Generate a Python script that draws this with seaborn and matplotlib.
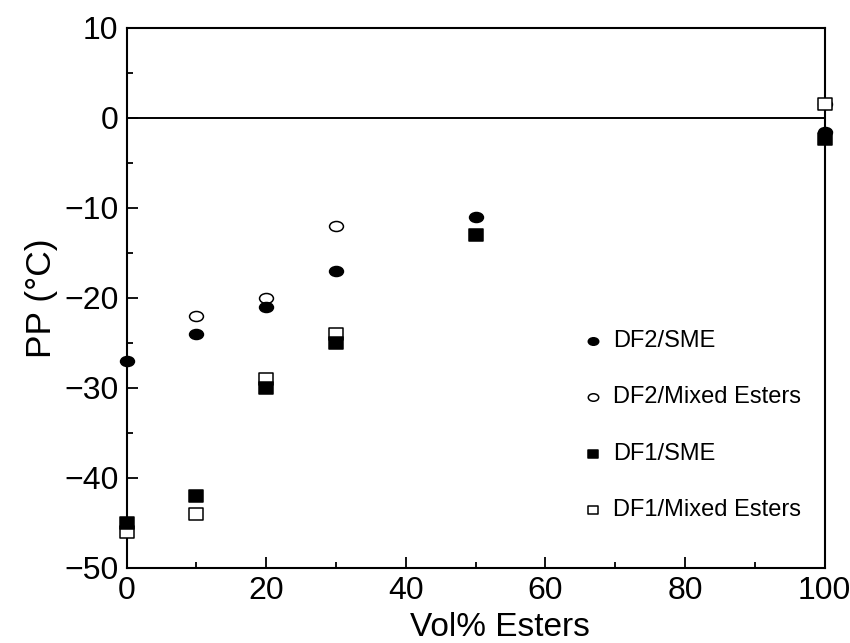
import matplotlib
matplotlib.use("Agg")
import matplotlib.pyplot as plt
import matplotlib.transforms as mtransforms
import seaborn as sns
import pandas as pd
import numpy as np
from matplotlib.path import Path
from matplotlib.ticker import MultipleLocator

# -----------------------
# Data
# -----------------------
df2_sme_x = [0, 10, 20, 30, 50, 100]
df2_sme_y = [-27, -24, -21, -17, -11, -1.6]

df2_mix_x = [10, 20, 30, 100]
df2_mix_y = [-22, -20, -12, 1.5]

df1_sme_x = [0, 10, 20, 30, 50, 100]
df1_sme_y = [-45, -42, -30, -25, -13, -2.4]

df1_mix_x = [0, 10, 20, 30, 100]
df1_mix_y = [-46, -44, -29, -24, 1.5]

series_names = ["DF2/SME", "DF2/Mixed Esters", "DF1/SME", "DF1/Mixed Esters"]

frames = []
for name, xs, ys in zip(series_names,
                        [df2_sme_x, df2_mix_x, df1_sme_x, df1_mix_x],
                        [df2_sme_y, df2_mix_y, df1_sme_y, df1_mix_y]):
    frames.append(pd.DataFrame({"vol": xs, "pp": ys, "series": name}))
data = pd.concat(frames, ignore_index=True)

# -----------------------
# Markers: slightly squashed circles / squares like the scanned figure
# -----------------------
circ = Path.unit_circle()
ellipse = Path(circ.vertices * np.array([1.0, 0.72]), circ.codes)
rect = Path([(-1, -0.85), (1, -0.85), (1, 0.85), (-1, 0.85), (-1, -0.85)],
            [Path.MOVETO, Path.LINETO, Path.LINETO, Path.LINETO, Path.CLOSEPOLY])

styles = {
    "DF2/SME": dict(marker=ellipse, face="black"),
    "DF2/Mixed Esters": dict(marker=ellipse, face="white"),
    "DF1/SME": dict(marker=rect, face="black"),
    "DF1/Mixed Esters": dict(marker=rect, face="white"),
}

# -----------------------
# Style
# -----------------------
sns.set_theme(style="ticks")
plt.rcParams["font.family"] = ["Liberation Sans", "DejaVu Sans"]
plt.rcParams["text.color"] = "black"
plt.rcParams["axes.labelcolor"] = "black"
plt.rcParams["xtick.color"] = "black"
plt.rcParams["ytick.color"] = "black"

fig = plt.figure(figsize=(8.5, 6.43), dpi=100)
ax = fig.add_axes([0.149, 0.117, 0.821, 0.840])

ax.axhline(0, color="black", lw=1.4, zorder=1)

# open markers first so the filled ones sit on top where they overlap
draw_order = ["DF2/Mixed Esters", "DF1/Mixed Esters", "DF2/SME", "DF1/SME"]
for name in draw_order:
    st = styles[name]
    sub = data[data["series"] == name]
    sns.scatterplot(data=sub, x="vol", y="pp", ax=ax, marker=st["marker"],
                    s=100, color=st["face"], edgecolor="black",
                    linewidth=1.1, label=name, clip_on=False, zorder=3)

ax.set_xlim(0, 100)
ax.set_ylim(-50, 10)
ax.xaxis.set_major_locator(MultipleLocator(20))
ax.xaxis.set_minor_locator(MultipleLocator(10))
ax.yaxis.set_major_locator(MultipleLocator(10))
ax.yaxis.set_minor_locator(MultipleLocator(5))
ax.tick_params(which="both", direction="in", top=False, right=False,
               width=1.3, labelsize=23, pad=6)
ax.tick_params(which="major", length=8)
ax.tick_params(which="minor", length=4)
for sp in ax.spines.values():
    sp.set_linewidth(1.5)
    sp.set_color("black")

# the "100" label sits a little left of its tick in the reference
fig.canvas.draw()
last = ax.get_xticklabels()[-1]
last.set_transform(last.get_transform() +
                   mtransforms.ScaledTranslation(-5 / 100, 0, fig.dpi_scale_trans))

ax.set_xlabel("Vol% Esters", fontsize=24)
ax.xaxis.set_label_coords(0.535, -0.082)
ax.set_ylabel("PP (°C)", fontsize=25.5, labelpad=4)

handles, labels = ax.get_legend_handles_labels()
order = [labels.index(n) for n in series_names]
ax.legend([handles[i] for i in order], [labels[i] for i in order],
          loc="upper left", bbox_to_anchor=(0.638, 0.458), frameon=False,
          fontsize=17, labelspacing=1.46, handlelength=1.0,
          handletextpad=0.33, markerscale=0.75, borderaxespad=0)

fig.savefig("out.png", dpi=100)
